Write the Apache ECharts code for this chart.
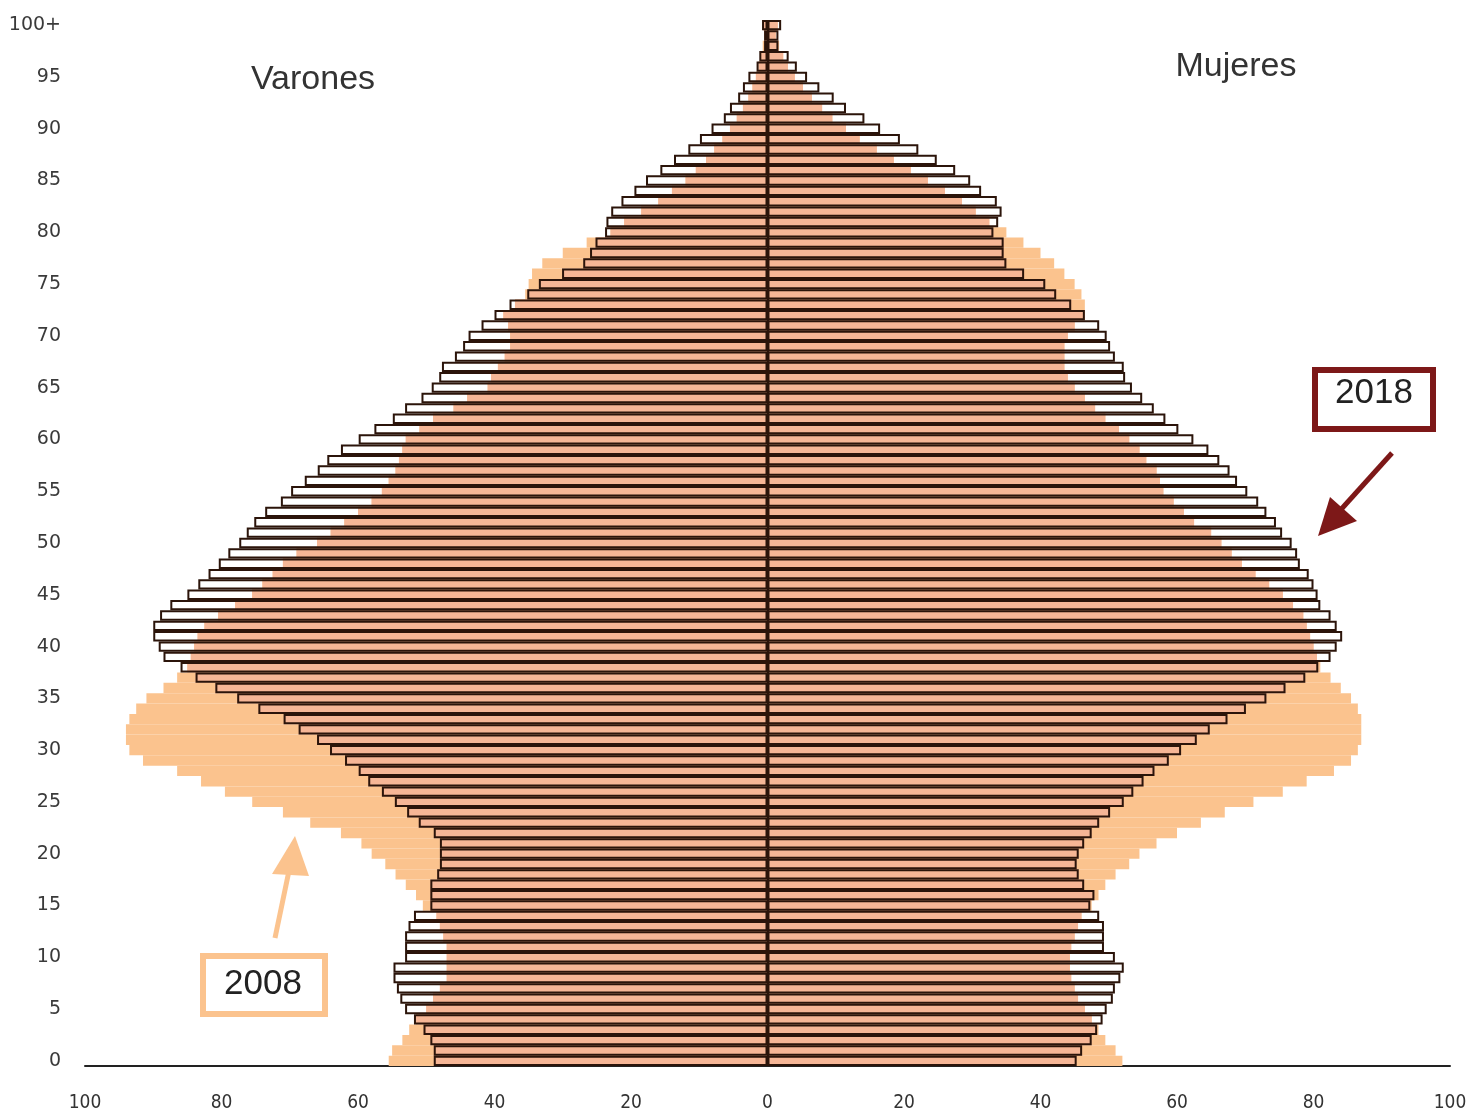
<!DOCTYPE html>
<html>
<head>
<meta charset="utf-8">
<script src="https://cdn.jsdelivr.net/npm/echarts@6/dist/echarts.min.js"></script>
<style>
  html, body { margin: 0; padding: 0; background: #fff; }
  #main { width: 1472px; height: 1118px; }
</style>
</head>
<body>
<div id="main"></div>
<script>
// ages 0 .. 100+ (index = age)
var ages = [];
for (var i = 0; i <= 100; i++) ages.push(i === 100 ? '100+' : String(i));

// x axis ticks
var xTicks = [-100, -80, -60, -40, -20, 0, 20, 40, 60, 80, 100];

// 2018 (outlined bars)
var men2018 = [
  48.9, 48.9, 49.4, 50.4, 51.8, 53.1, 53.8, 54.3, 54.8, 54.8,
  53.1, 53.1, 53.1, 52.6, 51.8, 49.4, 49.4, 49.4, 48.4, 48.0,
  48.0, 48.0, 48.9, 51.1, 52.8, 54.6, 56.5, 58.5, 59.9, 61.9,
  64.1, 66.0, 68.7, 70.9, 74.6, 77.7, 80.9, 83.8, 86.0, 88.5,
  89.2, 90.0, 90.0, 89.0, 87.5, 85.0, 83.4, 81.9, 80.4, 79.0,
  77.4, 76.3, 75.2, 73.6, 71.3, 69.8, 67.8, 65.9, 64.5, 62.5,
  59.9, 57.6, 54.9, 53.1, 50.7, 49.2, 48.1, 47.7, 45.8, 44.6,
  43.8, 41.9, 40.0, 37.8, 35.2, 33.5, 30.1, 27.0, 26.0, 25.2,
  23.8, 23.6, 22.9, 21.4, 19.5, 17.8, 15.7, 13.7, 11.6, 9.9,
  8.2, 6.4, 5.5, 4.3, 3.6, 2.8, 1.6, 1.2, 0.5, 0.5,
  0.8
];
var women2018 = [
  45.3, 46.1, 47.5, 48.3, 49.1, 49.7, 50.6, 50.9, 51.7, 52.2,
  50.9, 49.3, 49.3, 49.3, 48.6, 47.3, 47.9, 46.4, 45.6, 45.3,
  45.6, 46.4, 47.5, 48.6, 50.2, 52.2, 53.6, 55.1, 56.7, 58.8,
  60.6, 62.9, 64.8, 67.4, 70.1, 73.1, 75.9, 78.8, 80.7, 82.5,
  83.4, 84.2, 83.4, 82.5, 81.0, 80.6, 80.0, 79.3, 78.0, 77.6,
  76.8, 75.4, 74.5, 73.1, 71.9, 70.3, 68.8, 67.7, 66.2, 64.6,
  62.4, 60.2, 58.3, 56.6, 54.9, 53.4, 52.4, 52.2, 50.9, 50.2,
  49.7, 48.6, 46.5, 44.5, 42.3, 40.7, 37.6, 35.0, 34.6, 34.6,
  33.1, 33.8, 34.3, 33.6, 31.3, 29.7, 27.5, 24.8, 22.1, 19.4,
  16.5, 14.2, 11.5, 9.7, 7.6, 5.8, 4.3, 3.1, 1.6, 1.6,
  2.0
];

// 2008 (filled area behind)
var men2008 = [
  55.5, 55.0, 53.5, 52.5, 51.5, 50.0, 49.0, 48.0, 47.0, 47.0,
  47.0, 47.0, 47.5, 48.0, 48.5, 50.5, 51.5, 53.0, 54.5, 56.0,
  58.0, 59.5, 62.5, 67.0, 71.0, 75.5, 79.5, 83.0, 86.5, 91.5,
  93.5, 94.0, 94.0, 93.5, 92.5, 91.0, 88.5, 86.5, 85.0, 84.5,
  84.0, 83.5, 82.5, 80.5, 78.0, 75.5, 74.0, 72.5, 71.0, 69.0,
  66.0, 64.0, 62.0, 60.0, 58.0, 56.5, 55.5, 54.5, 54.0, 53.5,
  53.0, 51.0, 49.0, 46.0, 44.0, 41.0, 40.5, 39.5, 38.5, 37.7,
  37.7, 38.0, 38.7, 37.0, 35.5, 35.0, 34.5, 33.0, 30.0, 26.5,
  23.0, 21.0, 18.5, 16.0, 14.0, 12.0, 10.5, 9.0, 7.8, 6.6,
  5.5, 4.5, 3.6, 2.8, 2.2, 1.7, 1.3, 1.0, 0.7, 0.5,
  0.6
];
var women2008 = [
  52.0, 51.0, 49.5, 48.5, 47.5, 46.5, 45.5, 45.0, 44.5, 44.3,
  44.3, 44.5, 45.0, 45.5, 46.0, 47.5, 48.5, 49.5, 51.0, 53.0,
  54.5, 57.0, 60.0, 63.5, 67.0, 71.2, 75.5, 79.0, 83.0, 85.5,
  86.5, 87.0, 87.0, 87.0, 86.5, 85.5, 84.0, 82.5, 81.0, 80.5,
  80.0, 79.5, 79.0, 78.5, 77.0, 75.5, 73.5, 71.5, 69.5, 68.0,
  66.5, 65.0, 62.5, 61.0, 59.5, 58.0, 57.5, 57.0, 55.5, 54.5,
  53.0, 51.5, 49.5, 48.0, 46.5, 45.0, 44.0, 43.5, 43.5, 43.5,
  44.0, 45.0, 46.5, 46.5, 46.0, 45.0, 43.5, 42.0, 40.0, 37.5,
  35.0, 32.5, 30.5, 28.5, 26.0, 23.5, 21.0, 18.5, 16.0, 13.5,
  11.5, 9.5, 8.0, 6.5, 5.2, 4.0, 3.0, 2.3, 1.7, 1.2,
  1.5
];

var PEACH = '#fbc38e';
var SALMON = '#f6b696';
var OUTLINE = '#2b140a';
var ARROW_2018 = '#7d1818';
var FONT = "'Liberation Sans', Arial, sans-serif";

var neg = function (arr) { return arr.map(function (v) { return -v; }); };
var both = function (a, b) { return a.map(function (v, i) { return Math.min(v, b[i]); }); };

var chart = echarts.init(document.getElementById('main'));

var barBase = {
  type: 'bar',
  barGap: '-100%',
  barCategoryGap: 0,
  silent: true
};

var option = {
  animation: false,
  backgroundColor: '#fff',
  grid: { left: 85, right: 22, top: 20, bottom: 52 },
  xAxis: {
    type: 'value',
    min: -100,
    max: 100,
    interval: 20,
    axisLine: { show: true, lineStyle: { color: '#222', width: 2 } },
    axisTick: { show: false },
    splitLine: { show: false },
    axisLabel: {
      margin: 28,
      fontSize: 19,
      color: '#333',
      fontFamily: "'DejaVu Sans Condensed', 'Liberation Sans Narrow', 'Liberation Sans', sans-serif",
      formatter: function (v) { return xTicks.indexOf(v) >= 0 ? String(Math.abs(v)) : ''; }
    }
  },
  yAxis: {
    type: 'category',
    data: ages,
    axisLine: { show: false },
    axisTick: { show: false },
    splitLine: { show: false },
    axisLabel: {
      interval: 4,
      margin: 24,
      fontSize: 19,
      color: '#3a3a3a',
      fontFamily: "'DejaVu Sans', sans-serif"
    }
  },
  series: [
    Object.assign({}, barBase, { name: '2008 Varones', data: neg(men2008), itemStyle: { color: PEACH } }),
    Object.assign({}, barBase, { name: '2008 Mujeres', data: women2008, itemStyle: { color: PEACH } }),
    Object.assign({}, barBase, { name: 'comun V', data: neg(both(men2008, men2018)), itemStyle: { color: SALMON } }),
    Object.assign({}, barBase, { name: 'comun M', data: both(women2008, women2018), itemStyle: { color: SALMON } }),
    Object.assign({}, barBase, {
      name: '2018 Varones', data: neg(men2018),
      itemStyle: { color: 'rgba(0,0,0,0)', borderColor: OUTLINE, borderWidth: 2 }
    }),
    Object.assign({}, barBase, {
      name: '2018 Mujeres', data: women2018,
      itemStyle: { color: 'rgba(0,0,0,0)', borderColor: OUTLINE, borderWidth: 2 },
      markLine: {
        silent: true,
        symbol: 'none',
        label: { show: false },
        lineStyle: { color: OUTLINE, width: 2, type: 'solid' },
        data: [{ xAxis: 0 }]
      }
    })
  ],
  graphic: [
    { type: 'text', x: 313, y: 80, style: { text: 'Varones', fontSize: 34, fill: '#333', align: 'center', verticalAlign: 'middle', fontFamily: FONT } },
    { type: 'text', x: 1236, y: 67, style: { text: 'Mujeres', fontSize: 34, fill: '#333', align: 'center', verticalAlign: 'middle', fontFamily: FONT } },

    // 2018 label
    { type: 'rect', shape: { x: 1315, y: 370, width: 118, height: 59 }, style: { fill: '#fff', stroke: ARROW_2018, lineWidth: 6 } },
    { type: 'text', x: 1374, y: 393, style: { text: '2018', fontSize: 35, fill: '#222', align: 'center', verticalAlign: 'middle', fontFamily: FONT } },
    { type: 'line', shape: { x1: 1392, y1: 453, x2: 1336, y2: 515 }, style: { stroke: ARROW_2018, lineWidth: 5 } },
    { type: 'polygon', shape: { points: [[1318, 536], [1330, 497], [1357, 521]] }, style: { fill: ARROW_2018 } },

    // 2008 label
    { type: 'rect', shape: { x: 203, y: 956, width: 122, height: 58 }, style: { fill: '#fff', stroke: PEACH, lineWidth: 6 } },
    { type: 'text', x: 263, y: 984, style: { text: '2008', fontSize: 35, fill: '#222', align: 'center', verticalAlign: 'middle', fontFamily: FONT } },
    { type: 'line', shape: { x1: 275, y1: 938, x2: 290, y2: 866 }, style: { stroke: PEACH, lineWidth: 5 } },
    { type: 'polygon', shape: { points: [[295, 836], [272, 874], [309, 876]] }, style: { fill: PEACH } }
  ]
};

chart.setOption(option);
</script>
</body>
</html>
